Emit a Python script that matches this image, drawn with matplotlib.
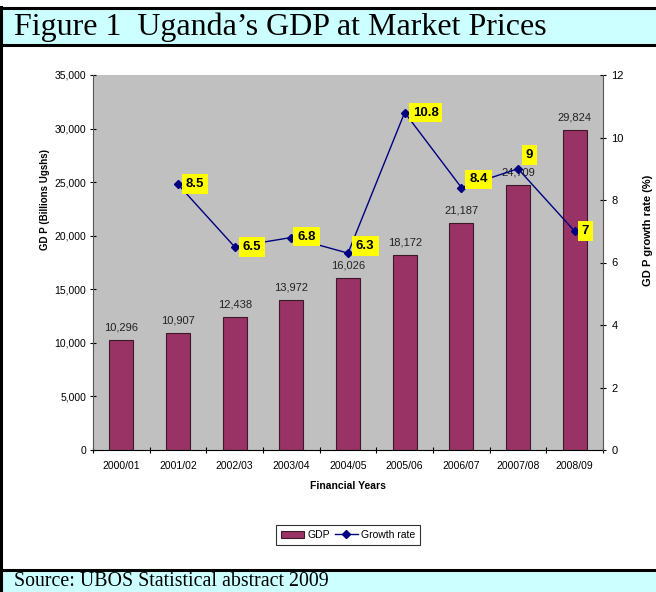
import numpy as np
import matplotlib.pyplot as plt
from matplotlib.patches import Rectangle

# data
years = ['2000/01', '2001/02', '2002/03', '2003/04', '2004/05',
         '2005/06', '2006/07', '20007/08', '2008/09']
gdp = [10296, 10907, 12438, 13972, 16026, 18172, 21187, 24709, 29824]
growth_years = years[1:]
growth = [8.5, 6.5, 6.8, 6.3, 10.8, 8.4, 9, 7]
# label nudges (pixels) for the yellow growth labels
growth_offsets = [(8, 0), (8, 0), (6, 1), (8, 7), (8, 0), (8, 8), (8, 14), (7, 0)]

W, H = 656, 592
fig = plt.figure(figsize=(W / 100, H / 100), dpi=100)
plt.rcParams['font.family'] = ['Liberation Sans', 'DejaVu Sans']


def fx(px):
    return px / W


def fy(py):
    return 1 - py / H


# header / footer boxes and the left border
cyan = '#CCFFFF'
fig.patches.append(Rectangle((0, fy(46)), 1, fy(7) - fy(46), transform=fig.transFigure,
                             facecolor=cyan, edgecolor='none', zorder=0))
fig.patches.append(Rectangle((0, 0), 1, fy(570), transform=fig.transFigure,
                             facecolor=cyan, edgecolor='none', zorder=0))
for y0 in (7.5, 45, 570):
    fig.add_artist(plt.Line2D([0, 1], [fy(y0), fy(y0)], color='black', lw=2.2,
                              transform=fig.transFigure))
fig.add_artist(plt.Line2D([fx(1), fx(1)], [fy(7), 0], color='black', lw=2.2,
                          transform=fig.transFigure))

fig.text(fx(14), fy(27), 'Figure 1  Uganda\u2019s GDP at Market Prices',
         family='Liberation Serif', fontsize=23, va='center', ha='left')
fig.text(fx(14), fy(581), 'Source: UBOS Statistical abstract 2009',
         family='Liberation Serif', fontsize=14.3, va='center', ha='left')

ax = fig.add_axes([fx(93), fy(450), fx(603) - fx(93), fy(75) - fy(450)])
ax.set_facecolor('#C0C0C0')
x = np.arange(len(years))
bars = ax.bar(x, gdp, width=0.42, color='#993366', edgecolor='#3a1a28', linewidth=0.8,
              label='GDP', zorder=2)
ax.set_xlim(-0.5, len(years) - 0.5)
ax.set_ylim(0, 35000)
ax.set_yticks(np.arange(0, 35001, 5000))
ax.set_yticklabels([f'{v:,}' for v in range(0, 35001, 5000)], fontsize=7.5)
ax.set_xticks(x)
ax.set_xticklabels(years, fontsize=7.5)
ax.tick_params(axis='x', length=0, pad=8)
ax.set_xticks(np.arange(-0.5, len(years), 1), minor=True)
ax.tick_params(axis='x', which='minor', length=4, direction='inout', width=0.8)
ax.tick_params(axis='y', length=4, direction='inout', width=0.8, pad=3)
for s in ('top', 'right'):
    ax.spines[s].set_visible(False)
ax.spines['left'].set_color('#555555')
ax.spines['bottom'].set_color('black')

for xi, v in zip(x, gdp):
    ax.text(xi, v + 700, f'{v:,}', ha='center', va='bottom', fontsize=8, color='#222222',
            zorder=3)

ax.set_xlabel('Financial Years', fontsize=7.5, fontweight='bold', labelpad=7)
fig.text(fx(45), fy(200), 'GD P (Billions Ugshs)', rotation=90, ha='center', va='center',
         fontsize=7, fontweight='bold')

ax2 = ax.twinx()
ax2.set_ylim(0, 12)
ax2.set_yticks(np.arange(0, 13, 2))
ax2.tick_params(axis='y', labelsize=8, length=4, direction='inout', width=0.8, pad=4)
for s in ('top', 'left', 'bottom'):
    ax2.spines[s].set_visible(False)
ax2.spines['right'].set_color('#555555')
gx = [years.index(y) for y in growth_years]
line, = ax2.plot(gx, growth, color='#000080', lw=1, marker='D', markersize=4,
                 label='Growth rate', zorder=4)
for xi, v, (dx, dy) in zip(gx, growth, growth_offsets):
    ax2.annotate(f'{v:g}', (xi, v), xytext=(dx, dy), textcoords='offset pixels',
                 ha='left', va='center', fontsize=9.5, fontweight='bold',
                 bbox=dict(boxstyle='square,pad=0.3', facecolor='yellow', edgecolor='none'),
                 zorder=5)
fig.text(fx(648), fy(230), 'GD P growth rate (%)', rotation=90, ha='center', va='center',
         fontsize=8, fontweight='bold')

leg = fig.legend([bars, line], ['GDP', 'Growth rate'], loc='center',
                 bbox_to_anchor=(fx(348), fy(535)), ncol=2, fontsize=7.5, frameon=True,
                 fancybox=False, edgecolor='black', handlelength=2.2, handletextpad=0.3,
                 columnspacing=0.5, borderpad=0.5)
leg.get_frame().set_linewidth(0.8)

fig.savefig('out.png', dpi=100)
